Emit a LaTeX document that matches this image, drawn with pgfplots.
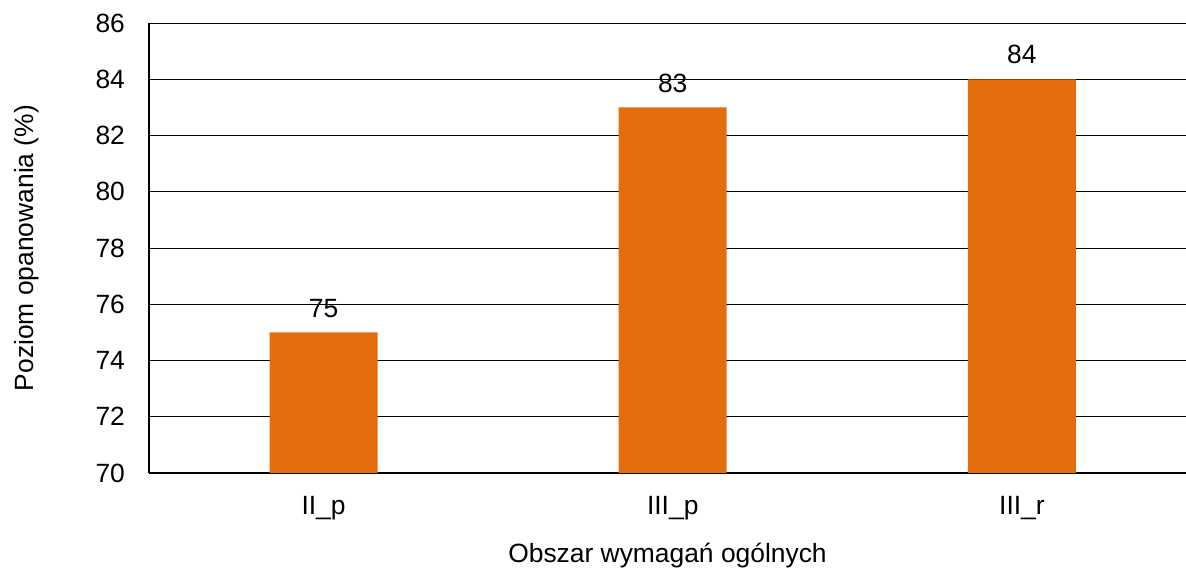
\documentclass[border=0pt]{standalone}
\usepackage{pgfplots}
\pgfplotsset{compat=1.18}
\usepackage{fontspec}
\setmainfont{Liberation Sans}
\definecolor{barorange}{RGB}{227,108,13}
\begin{document}
\begin{tikzpicture}
\begin{axis}[
  name=ax,
  scale only axis,
  width=518.5pt, height=225pt,
  xmin=-0.5, xmax=2.47,
  ymin=70, ymax=86,
  ytick={70,72,...,86},
  xtick={0,1,2},
  xticklabels={II\_p, III\_p, III\_r},
  axis x line*=bottom,
  axis y line*=left,
  axis line style={line width=0.8pt, -},
  ymajorgrids,
  grid style={black, line width=0.5pt},
  major tick length=0pt,
  tick label style={font=\fontsize{13.2}{15}\selectfont},
  /pgf/number format/assume math mode=true,
  xticklabel style={yshift=-8pt},
  yticklabel style={xshift=-8.5pt},
  xlabel={Obszar wymagań ogólnych},
  ylabel={Poziom opanowania (\%)},
  label style={font=\fontsize{13.2}{15}\selectfont},
  xlabel style={yshift=-5pt},
  ylabel style={yshift=21.5pt},
  nodes near coords,
  every node near coord/.append style={font=\fontsize{13.2}{15}\selectfont, black, yshift=4pt},
  clip=false,
]
\addplot[ybar, bar width=54pt, fill=barorange, draw=none] coordinates {(0,75) (1,83) (2,84)};
\end{axis}
\pgfresetboundingbox
\path ([xshift=-74.5pt,yshift=-48pt]ax.south west) rectangle ([yshift=11.5pt]ax.north east);
\end{tikzpicture}
\end{document}
